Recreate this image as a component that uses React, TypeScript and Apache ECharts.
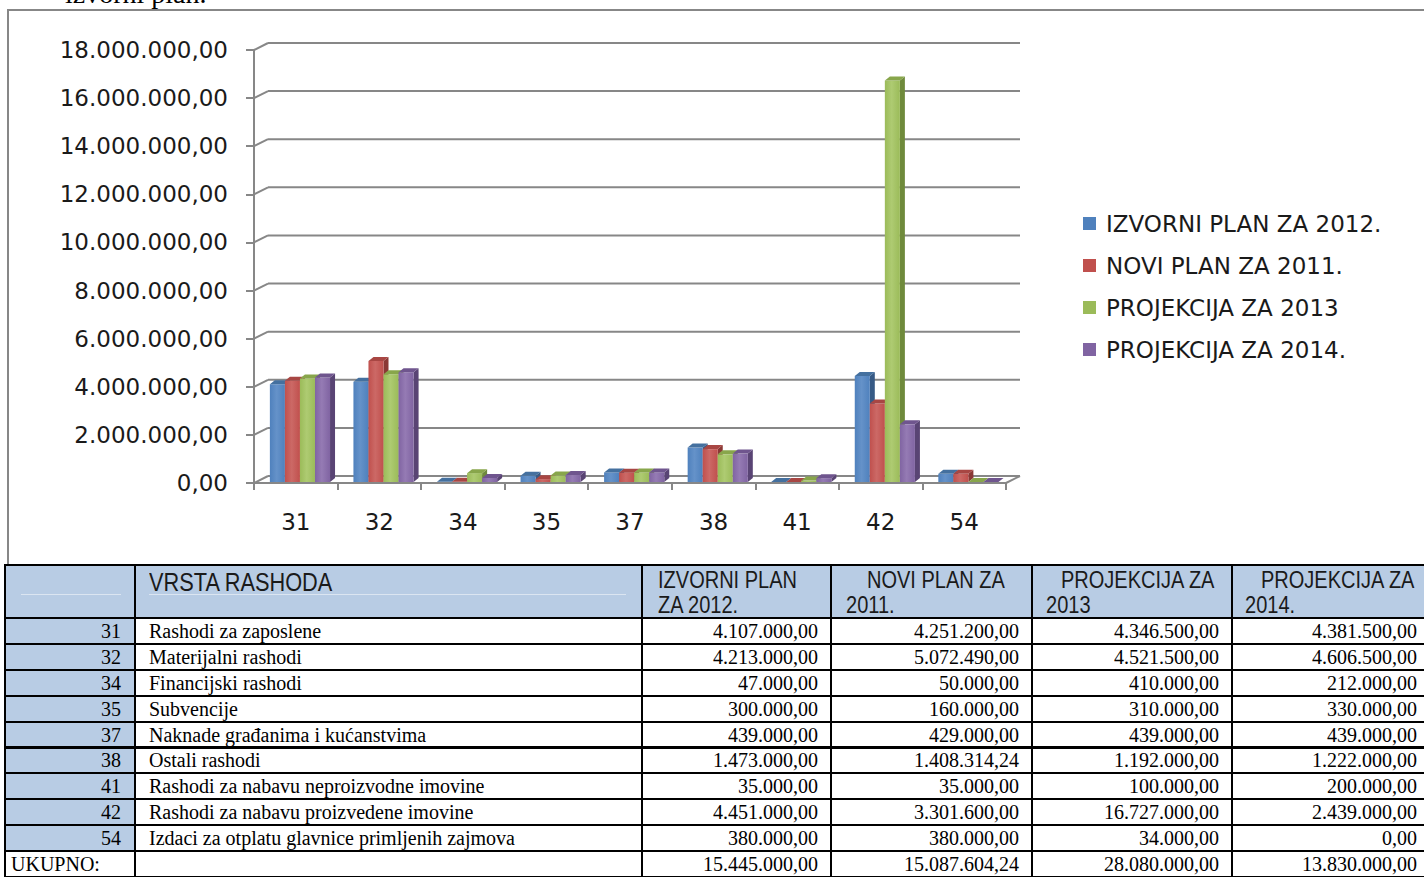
import React, { useEffect, useRef } from 'react';
import * as echarts from 'echarts';

// ---------- data ----------
const categories = ['31', '32', '34', '35', '37', '38', '41', '42', '54'];
const descriptions = [
  'Rashodi za zaposlene',
  'Materijalni rashodi',
  'Financijski rashodi',
  'Subvencije',
  'Naknade građanima i kućanstvima',
  'Ostali rashodi',
  'Rashodi za nabavu neproizvodne imovine',
  'Rashodi za nabavu proizvedene imovine',
  'Izdaci za otplatu glavnice primljenih zajmova',
];
const izvorni2012 = [4107000, 4213000, 47000, 300000, 439000, 1473000, 35000, 4451000, 380000];
const novi2011 = [4251200, 5072490, 50000, 160000, 429000, 1408314.24, 35000, 3301600, 380000];
const projekcija2013 = [4346500, 4521500, 410000, 310000, 439000, 1192000, 100000, 16727000, 34000];
const projekcija2014 = [4381500, 4606500, 212000, 330000, 439000, 1222000, 200000, 2439000, 0];
const totals = [15445000, 15087604.24, 28080000, 13830000];
const seriesNames = ['IZVORNI PLAN ZA 2012.', 'NOVI PLAN ZA 2011.', 'PROJEKCIJA ZA 2013', 'PROJEKCIJA ZA 2014.'];
const headerFirstLines = ['IZVORNI PLAN', 'NOVI PLAN ZA', 'PROJEKCIJA ZA', 'PROJEKCIJA ZA'];
const headerSecondLines = ['ZA 2012.', '2011.', '2013', '2014.'];
const yTicks = [0, 2000000, 4000000, 6000000, 8000000, 10000000, 12000000, 14000000, 16000000, 18000000];
const allSeries = [izvorni2012, novi2011, projekcija2013, projekcija2014];

// ---------- styles ----------
const faceColors = [
  { front: '#4f81bd', light: '#6592c9', top: '#44709f', side: '#375a85' },
  { front: '#c0504d', light: '#cc6966', top: '#a84643', side: '#8a3835' },
  { front: '#9bbb59', light: '#aecb72', top: '#88a64b', side: '#6f8a3c' },
  { front: '#8064a2', light: '#957bb4', top: '#6f558e', side: '#594474' },
];

function fmt(v: number): string {
  const [i, d] = v.toFixed(2).split('.');
  return i.replace(/\B(?=(\d{3})+(?!\d))/g, '.') + ',' + d;
}

const AXIS_GRAY = '#878787';
const DX = 14;
const DY = 7;

function buildOption() {
  const wallSeries = {
    type: 'custom',
    silent: true,
    z: 1,
    data: yTicks.map((v) => [0, v]),
    encode: { x: 0, y: 1 },
    renderItem: (params: any, api: any) => {
      const cs = params.coordSys;
      const v = api.value(1);
      const y = api.coord([0, v])[1];
      const children: any[] = [
        { type: 'line', shape: { x1: cs.x, y1: y, x2: cs.x + DX, y2: y - DY }, style: { stroke: AXIS_GRAY, lineWidth: 2 } },
        { type: 'line', shape: { x1: cs.x + DX, y1: y - DY, x2: cs.x + cs.width + DX, y2: y - DY }, style: { stroke: AXIS_GRAY, lineWidth: 2 } },
      ];
      if (v === 0) {
        children.push({
          type: 'line',
          shape: { x1: cs.x + cs.width, y1: y, x2: cs.x + cs.width + DX, y2: y - DY },
          style: { stroke: AXIS_GRAY, lineWidth: 2 },
        });
      }
      return { type: 'group', children };
    },
  };

  const barSeries = allSeries.map((values, si) => ({
    type: 'custom',
    name: seriesNames[si],
    z: 2 + si,
    itemStyle: { color: faceColors[si].front },
    data: values.map((v, k) => [k, v]),
    encode: { x: 0, y: 1 },
    renderItem: (params: any, api: any) => {
      const cat = api.value(0);
      const v = api.value(1);
      const base = api.coord([cat, 0]);
      const top = api.coord([cat, v]);
      const band = api.size([1, 0])[0];
      const bw = band * 0.18;
      const x0 = base[0] - band * 0.31 + si * bw;
      const yb = base[1] - 1;
      const yt = Math.min(top[1], yb);
      const dx = 5;
      const dy = 4;
      const c = faceColors[si];
      return {
        type: 'group',
        children: [
          {
            type: 'polygon',
            shape: { points: [[x0 + bw, yt], [x0 + bw + dx, yt - dy], [x0 + bw + dx, yb - dy], [x0 + bw, yb]] },
            style: { fill: c.side },
          },
          {
            type: 'rect',
            shape: { x: x0, y: yt, width: bw, height: Math.max(0, yb - yt) },
            style: {
              fill: new echarts.graphic.LinearGradient(0, 0, 1, 0, [
                { offset: 0, color: c.front },
                { offset: 0.45, color: c.light },
                { offset: 1, color: c.front },
              ]),
            },
          },
          {
            type: 'polygon',
            shape: { points: [[x0, yt], [x0 + dx, yt - dy], [x0 + bw + dx, yt - dy], [x0 + bw, yt]] },
            style: { fill: c.top },
          },
        ],
      };
    },
  }));

  return {
    animation: false,
    backgroundColor: 'transparent',
    textStyle: { fontFamily: 'DejaVu Sans' },
    grid: { left: 254, top: 50, width: 752, height: 433 },
    legend: {
      orient: 'vertical',
      left: 1078,
      top: 207,
      itemWidth: 13,
      itemHeight: 13,
      itemGap: 19,
      icon: 'rect',
      selectedMode: false,
      data: seriesNames,
      textStyle: { fontSize: 23, color: '#1a1a1a', fontFamily: 'DejaVu Sans', padding: [0, 0, 0, 5] },
    },
    xAxis: {
      type: 'category',
      data: categories,
      axisLine: { lineStyle: { color: AXIS_GRAY, width: 2 } },
      axisTick: { show: true, length: 7, lineStyle: { color: AXIS_GRAY, width: 2 } },
      axisLabel: { fontSize: 23, color: '#1a1a1a', margin: 27, fontFamily: 'DejaVu Sans' },
      splitLine: { show: false },
    },
    yAxis: {
      type: 'value',
      min: 0,
      max: 18000000,
      interval: 2000000,
      axisLine: { show: true, lineStyle: { color: AXIS_GRAY, width: 2 } },
      axisTick: { show: true, length: 8, lineStyle: { color: AXIS_GRAY, width: 2 } },
      axisLabel: { fontSize: 23, color: '#1a1a1a', margin: 26, fontFamily: 'DejaVu Sans', formatter: (v: number) => fmt(v) },
      splitLine: { show: false },
    },
    series: [wallSeries, ...barSeries],
  };
}

// ---------- table layout ----------
const colX = [5, 135, 642, 831, 1032, 1232, 1432];
const headerTop = 565;
const headerH = 53;
const rowH = 25.9;
const firstLinePad = [16, 36, 29, 29];
const secondLinePad = [16, 15, 14, 13];
const HEADER_BG = '#b8cce4';
const serif = '"Liberation Serif", "Times New Roman", serif';
const sans = '"Liberation Sans", Arial, sans-serif';

function Cell(props: { c: number; top: number; h: number; bg: string; children?: any; style?: any }) {
  const { c, top, h, bg, children, style } = props;
  return (
    <div
      style={{
        position: 'absolute',
        left: colX[c] - 1,
        top: top - 1,
        width: colX[c + 1] - colX[c] + 2,
        height: h + 2,
        boxSizing: 'border-box',
        border: '2px solid #000',
        background: bg,
        overflow: 'hidden',
        ...style,
      }}
    >
      {children}
    </div>
  );
}

const narrowText = (size: number, left: number, top: number) => ({
  position: 'absolute' as const,
  left,
  top,
  font: `${size}px ${sans}`,
  lineHeight: `${size}px`,
  color: '#1a1a1a',
  whiteSpace: 'nowrap' as const,
  transform: 'scaleX(0.87)',
  transformOrigin: '0 0',
});

function Table() {
  const cells: any[] = [];
  // header
  cells.push(
    <Cell key="h0" c={0} top={headerTop} h={headerH} bg={HEADER_BG}>
      <div style={{ position: 'absolute', left: 15, top: 28, width: 100, height: 1, background: '#dbe5f1' }} />
    </Cell>
  );
  cells.push(
    <Cell key="h1" c={1} top={headerTop} h={headerH} bg={HEADER_BG}>
      <div style={{ position: 'absolute', left: 13, top: 28, width: 477, height: 1, background: '#dbe5f1' }} />
      <div style={narrowText(25, 13, 4)}>VRSTA RASHODA</div>
    </Cell>
  );
  for (let k = 0; k < 4; k++) {
    cells.push(
      <Cell key={'h' + (k + 2)} c={k + 2} top={headerTop} h={headerH} bg={HEADER_BG}>
        <div style={narrowText(23, firstLinePad[k] - 1, 3)}>{headerFirstLines[k]}</div>
        <div style={narrowText(23, secondLinePad[k] - 1, 28)}>{headerSecondLines[k]}</div>
      </Cell>
    );
  }
  const textStyle = { font: `20px ${serif}`, color: '#000', whiteSpace: 'nowrap' as const, lineHeight: '22px' };
  for (let r = 0; r <= categories.length; r++) {
    const top = headerTop + headerH + r * rowH;
    const isTotal = r === categories.length;
    const flex = (justify: string, pad: any) => ({ display: 'flex', alignItems: 'center', justifyContent: justify, ...pad });
    cells.push(
      <Cell key={'r' + r + 'c0'} c={0} top={top} h={rowH} bg={isTotal ? '#fff' : HEADER_BG}
        style={isTotal ? flex('flex-start', { paddingLeft: 5 }) : flex('flex-end', { paddingRight: 13 })}>
        <span style={textStyle}>{isTotal ? 'UKUPNO:' : categories[r]}</span>
      </Cell>
    );
    cells.push(
      <Cell key={'r' + r + 'c1'} c={1} top={top} h={rowH} bg="#fff" style={flex('flex-start', { paddingLeft: 13 })}>
        <span style={textStyle}>{isTotal ? '' : descriptions[r]}</span>
      </Cell>
    );
    for (let k = 0; k < 4; k++) {
      const v = isTotal ? totals[k] : allSeries[k][r];
      cells.push(
        <Cell key={'r' + r + 'c' + (k + 2)} c={k + 2} top={top} h={rowH} bg="#fff" style={flex('flex-end', { paddingRight: k === 3 ? 14 : 12 })}>
          <span style={textStyle}>{fmt(v)}</span>
        </Cell>
      );
    }
  }
  return <>{cells}</>;
}

export default function App() {
  const ref = useRef<HTMLDivElement>(null);
  useEffect(() => {
    if (!ref.current) return;
    const chart = echarts.init(ref.current, null, { renderer: 'svg' });
    chart.setOption(buildOption() as any);
    return () => chart.dispose();
  }, []);
  return (
    <div style={{ position: 'absolute', left: 0, top: 0, width: 1424, height: 877, overflow: 'hidden', background: '#fff' }}>
      <div style={{ position: 'absolute', left: 65, top: -19, font: `28px ${serif}`, lineHeight: '26px', whiteSpace: 'nowrap', color: '#000' }}>
        izvorni plan.
      </div>
      <div style={{ position: 'absolute', left: 7, top: 9, width: 1440, height: 560, borderLeft: '2px solid #878787', borderTop: '2px solid #878787' }} />
      <div ref={ref} style={{ position: 'absolute', left: 0, top: 0, width: 1424, height: 565 }} />
      <Table />
    </div>
  );
}
